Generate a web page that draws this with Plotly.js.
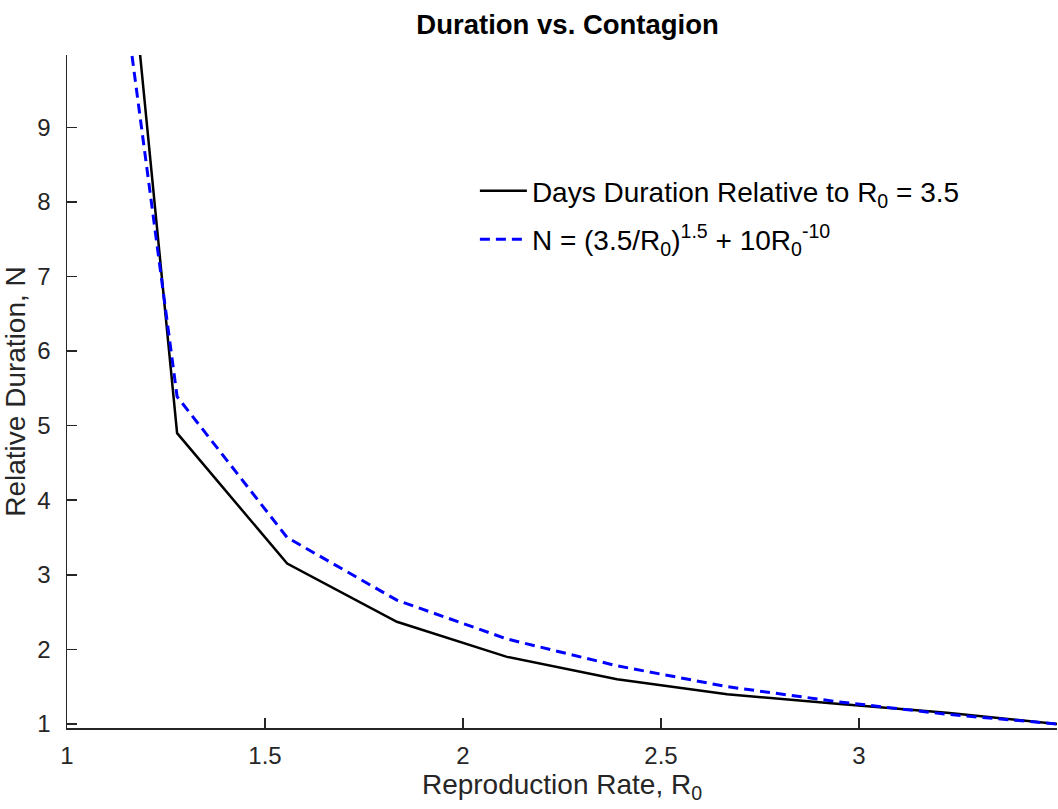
<!DOCTYPE html>
<html>
<head>
<meta charset="utf-8">
<script src="https://cdn.plot.ly/plotly-3.0.1.min.js"></script>
<style>html,body{margin:0;padding:0;background:#fff;}#chart{width:1058px;height:809px;}</style>
</head>
<body>
<div id="chart"></div>
<script>
const r0 = [1.0, 1.278, 1.556, 1.833, 2.111, 2.389, 2.667, 2.944, 3.222, 3.5];
const daysDuration = [20.0, 4.90, 3.15, 2.37, 1.90, 1.60, 1.40, 1.27, 1.15, 1.0];
const fitN = [16.55, 5.39, 3.50, 2.66, 2.14, 1.78, 1.50, 1.30, 1.13, 1.0];
const xTicks = [1, 1.5, 2, 2.5, 3];
const yTicks = [1, 2, 3, 4, 5, 6, 7, 8, 9];
const seriesNames = ['Days Duration Relative to R<sub>0</sub> = 3.5',
                     'N = (3.5/R<sub>0</sub>)<sup>1.5</sup> + 10R<sub>0</sub><sup>-10</sup>'];

const font = 'Liberation Sans, Arial, Helvetica, sans-serif';
const axCol = '#262626';

const data = [
  {x: r0, y: daysDuration, type: 'scatter', mode: 'lines', name: seriesNames[0], legendgroup: 'a',
   line: {color: '#000000', width: 2.5}},
  {x: r0, y: fitN, type: 'scatter', mode: 'lines', name: seriesNames[1], legendgroup: 'b',
   line: {color: '#0000ff', width: 3, dash: '10px,6px'}}
];

const layout = {
  width: 1058, height: 809,
  margin: {l: 67, r: 1, t: 55, b: 81},
  paper_bgcolor: '#ffffff', plot_bgcolor: '#ffffff',
  font: {family: font, size: 24, color: axCol},
  title: {text: '<b>Duration vs. Contagion</b>', font: {family: font, size: 27.5, color: '#000'},
          x: 0.5365, xanchor: 'center', y: 0.970, yanchor: 'middle'},
  showlegend: true,
  legend: {x: 0.412, y: 0.835, xanchor: 'left', yanchor: 'top', bgcolor: 'rgba(0,0,0,0)',
           borderwidth: 0, font: {family: font, size: 28, color: '#000'}, tracegroupgap: 9,
           itemwidth: 47},
  xaxis: {range: [1, 3.5], tickvals: xTicks, ticktext: xTicks.map(String),
          showgrid: false, zeroline: false, showline: true, linecolor: axCol, linewidth: 1.5,
          ticks: 'inside', ticklen: 10, tickwidth: 1.5, tickcolor: axCol,
          tickfont: {family: font, size: 24, color: axCol}, ticklabelstandoff: 6,
          title: {text: 'Reproduction Rate, R<sub>0</sub>', font: {family: font, size: 28, color: axCol}, standoff: 6}},
  yaxis: {range: [0.946, 9.97], tickvals: yTicks, ticktext: yTicks.map(String),
          showgrid: false, zeroline: false, showline: true, linecolor: axCol, linewidth: 1.5,
          ticks: 'inside', ticklen: 10, tickwidth: 1.5, tickcolor: axCol,
          tickfont: {family: font, size: 24, color: axCol}, ticklabelstandoff: 10,
          title: {text: 'Relative Duration, N', font: {family: font, size: 28, color: axCol}, standoff: 8}}
};

Plotly.newPlot('chart', data, layout, {displayModeBar: false, staticPlot: true});
</script>
</body>
</html>
